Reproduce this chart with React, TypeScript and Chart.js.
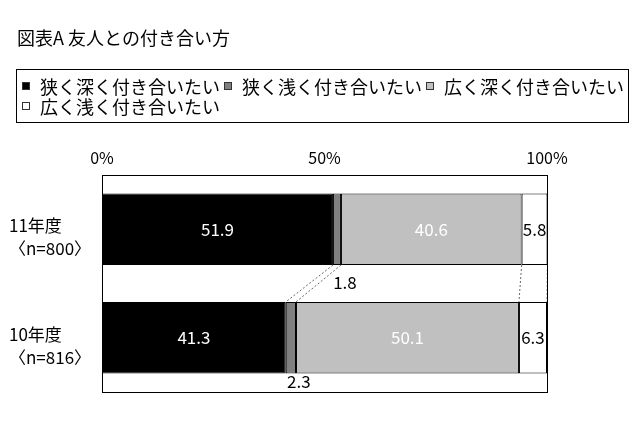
import { useEffect, useRef } from "react";
import { Chart, registerables } from "chart.js";

Chart.register(...registerables);

const TITLE = "図表A 友人との付き合い方";
const CATEGORIES = [
  ["11年度", "〈n=800〉"],
  ["10年度", "〈n=816〉"],
];
const SERIES = ["狭く深く付き合いたい", "狭く浅く付き合いたい", "広く深く付き合いたい", "広く浅く付き合いたい"];
const NARROW_DEEP = [51.9, 41.3];
const NARROW_SHALLOW = [1.8, 2.3];
const WIDE_DEEP = [40.6, 50.1];
const WIDE_SHALLOW = [5.8, 6.3];
const X_TICKS = [0, 50, 100];

const COLORS = ["#000000", "#808080", "#c0c0c0", "#ffffff"];
const LABEL_COLORS = ["#ffffff", "#000000", "#ffffff", "#000000"];
const FONT = "'Noto Sans CJK JP', 'Noto Sans', sans-serif";

// title + boxed legend drawn by hand, left aligned like the Excel original
const header = {
  id: "header",
  afterDraw(chart: any) {
    const { ctx } = chart;
    ctx.save();
    ctx.fillStyle = "#000";
    ctx.textBaseline = "middle";
    ctx.font = `18px ${FONT}`;
    ctx.fillText(TITLE, 17, 38);

    const box = { left: 16, top: 69, right: 628, bottom: 122 };
    ctx.lineWidth = 1;
    ctx.strokeStyle = "#000";
    ctx.strokeRect(box.left + 0.5, box.top + 0.5, box.right - box.left, box.bottom - box.top);
    let x = box.left + 6;
    let y = box.top + 17;
    chart.data.datasets.forEach((ds: any) => {
      const w = 18 + ctx.measureText(ds.label).width;
      if (x + w > box.right) {
        x = box.left + 6;
        y += 20;
      }
      ctx.fillStyle = ds.backgroundColor;
      ctx.fillRect(x, y - 4, 8, 8);
      ctx.strokeStyle = "#333";
      ctx.strokeRect(x + 0.5, y - 3.5, 7, 7);
      ctx.fillStyle = "#000";
      ctx.fillText(ds.label, x + 18, y + 1);
      x += w + 4;
    });
    ctx.restore();
  },
};

// plot frame, series lines between the two bars, value labels
const barExtras = {
  id: "barExtras",
  afterDatasetsDraw(chart: any) {
    const { ctx, chartArea } = chart;
    ctx.save();

    ctx.strokeStyle = "#666";
    ctx.lineWidth = 1;
    ctx.setLineDash([2, 2]);
    chart.data.datasets.forEach((_: any, i: number) => {
      const bars = chart.getDatasetMeta(i).data;
      for (let j = 0; j < bars.length - 1; j++) {
        const a = bars[j].getProps(["x", "y", "height"], true);
        const b = bars[j + 1].getProps(["x", "y", "height"], true);
        ctx.beginPath();
        ctx.moveTo(a.x, a.y + a.height / 2);
        ctx.lineTo(b.x, b.y - b.height / 2);
        ctx.stroke();
      }
    });
    ctx.setLineDash([]);

    ctx.strokeStyle = "#000";
    ctx.strokeRect(
      Math.round(chartArea.left) + 0.5,
      Math.round(chartArea.top) + 0.5,
      Math.round(chartArea.right - chartArea.left),
      Math.round(chartArea.bottom - chartArea.top)
    );

    ctx.font = `17px ${FONT}`;
    ctx.textAlign = "center";
    ctx.textBaseline = "middle";
    chart.data.datasets.forEach((ds: any, i: number) => {
      const bars = chart.getDatasetMeta(i).data;
      bars.forEach((bar: any, j: number) => {
        const p = bar.getProps(["x", "y", "base", "height"], true);
        let cx = (p.x + p.base) / 2;
        let cy = p.y;
        if (i === 1) {
          const next = bars[j + 1];
          const below = next ? next.getProps(["y", "height"], true) : null;
          const limit = below ? below.y - below.height / 2 : chartArea.bottom;
          cx += 8;
          cy = (p.y + p.height / 2 + limit) / 2 - 1;
        }
        ctx.fillStyle = LABEL_COLORS[i];
        ctx.fillText(Number(ds.data[j]).toFixed(1), cx, cy);
      });
    });
    ctx.restore();
  },
};

export default function App() {
  const canvasRef = useRef<HTMLCanvasElement>(null);
  const chartRef = useRef<Chart | null>(null);

  useEffect(() => {
    if (!canvasRef.current) return;
    chartRef.current?.destroy();
    Chart.defaults.font.family = FONT;
    Chart.defaults.color = "#000";
    const values = [NARROW_DEEP, NARROW_SHALLOW, WIDE_DEEP, WIDE_SHALLOW];
    chartRef.current = new Chart(canvasRef.current, {
      type: "bar",
      data: {
        labels: CATEGORIES,
        datasets: SERIES.map((label, i) => ({
          label,
          data: values[i],
          backgroundColor: COLORS[i],
          borderColor: "#000",
          borderWidth: 1,
          borderSkipped: false,
          categoryPercentage: 1,
          barPercentage: 0.66,
        })),
      },
      options: {
        indexAxis: "y",
        animation: false,
        responsive: true,
        maintainAspectRatio: false,
        layout: { padding: { left: 9, right: 93, bottom: 34, top: 150 } },
        plugins: {
          legend: { display: false },
          tooltip: { enabled: false },
          title: { display: false },
        },
        scales: {
          x: {
            position: "top",
            stacked: true,
            min: 0,
            max: 100,
            afterBuildTicks: (s: any) => {
              s.ticks = X_TICKS.map((value) => ({ value }));
            },
            afterFit: (s: any) => {
              s.height = 25;
              s.paddingLeft = 0;
              s.paddingRight = 0;
            },
            grid: { display: false, drawTicks: false },
            border: { display: false },
            ticks: { padding: 7, font: { size: 16 }, color: "#000", callback: (v: any) => `${v}%` },
          },
          y: {
            stacked: true,
            afterFit: (s: any) => {
              s.width = 93;
              s.paddingTop = 0;
              s.paddingBottom = 0;
            },
            grid: { display: false, drawTicks: false },
            border: { display: false },
            ticks: {
              padding: 8,
              crossAlign: "far",
              labelOffset: 8,
              color: "#000",
              font: { size: 17, lineHeight: 1.35 },
            },
          },
        },
      },
      plugins: [barExtras, header],
    });
    return () => chartRef.current?.destroy();
  }, []);

  return (
    <div style={{ position: "absolute", left: 0, top: 0, width: 640, height: 426, background: "#fff" }}>
      <canvas ref={canvasRef} />
    </div>
  );
}
